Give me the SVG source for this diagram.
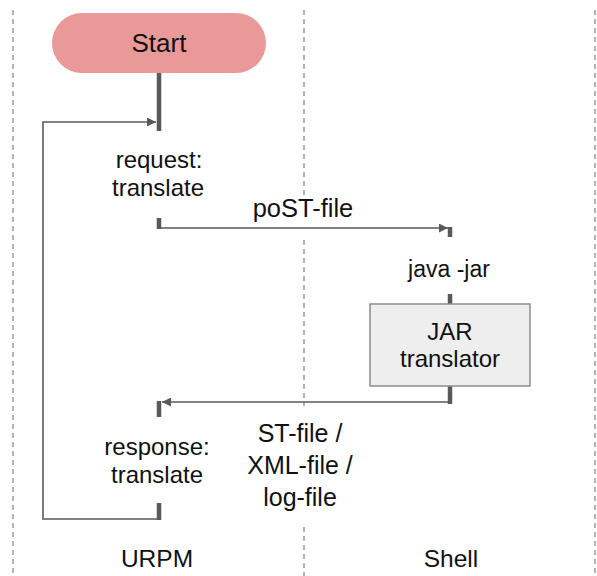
<svg xmlns="http://www.w3.org/2000/svg" width="597" height="576" viewBox="0 0 597 576">
  <defs>
    <style>
      .lane { stroke: #8c8c8c; stroke-width: 1.3; stroke-dasharray: 5 4; fill: none; }
      .flow { stroke: #595959; stroke-width: 1.6; fill: none; }
      .stub { stroke: #595959; stroke-width: 4.5; fill: none; }
      .lbl { font-family: "Liberation Sans", Arial, sans-serif; font-size: 24.5px; fill: #111111; text-anchor: middle; }
    </style>
    <marker id="arrow" viewBox="0 0 10 10" refX="10" refY="5" markerWidth="10" markerHeight="9" markerUnits="userSpaceOnUse" orient="auto">
      <path d="M0,0 L10,5 L0,10 z" fill="#595959"/>
    </marker>
  </defs>
  <rect width="597" height="576" fill="#ffffff"/>

  <!-- swimlane separators -->
  <g id="lanes">
    <line class="lane" x1="13" y1="10" x2="13" y2="576"/>
    <line class="lane" x1="304" y1="10" x2="304" y2="196"/>
    <line class="lane" x1="304" y1="240" x2="304" y2="406"/>
    <line class="lane" x1="304" y1="527" x2="304" y2="576"/>
    <line class="lane" x1="595" y1="10" x2="595" y2="576"/>
  </g>

  <!-- connectors -->
  <g id="connectors">
    <line class="stub" x1="159" y1="73" x2="159" y2="131"/>
    <polyline class="flow" points="159,519 43,519 43,122 156,122" marker-end="url(#arrow)"/>
    <line class="stub" x1="159" y1="218" x2="159" y2="229"/>
    <polyline class="flow" points="159,228 448,228" marker-end="url(#arrow)"/>
    <line class="stub" x1="450" y1="227" x2="450" y2="237"/>
    <line class="stub" x1="450" y1="294" x2="450" y2="304"/>
    <line class="stub" x1="450" y1="386" x2="450" y2="404"/>
    <polyline class="flow" points="450,402 162,402" marker-end="url(#arrow)"/>
    <line class="stub" x1="159" y1="401" x2="159" y2="417"/>
    <line class="stub" x1="159" y1="503" x2="159" y2="520"/>
    <text class="lbl" x="303" y="217" style="font-size:25.5px">poST-file</text>
    <text class="lbl" x="300" y="442" style="font-size:25px">ST-file /</text>
    <text class="lbl" x="300" y="474" style="font-size:25px">XML-file /</text>
    <text class="lbl" x="300" y="506" style="font-size:25px">log-file</text>
  </g>

  <g id="start">
    <rect x="52" y="13" width="214" height="60" rx="30" ry="30" fill="#ea9999"/>
    <text class="lbl" x="159" y="52" style="font-size:26px">Start</text>
  </g>

  <g id="request">
    <text class="lbl" x="159" y="168" style="font-size:24px">request:</text>
    <text class="lbl" x="158" y="196" style="font-size:24px">translate</text>
  </g>

  <g id="java">
    <text class="lbl" x="449" y="277" style="font-size:23px">java -jar</text>
  </g>

  <g id="jar">
    <rect x="370" y="304" width="160" height="82" fill="#eeeeee" stroke="#8c8c8c" stroke-width="1.5"/>
    <text class="lbl" x="450" y="340" style="font-size:24px">JAR</text>
    <text class="lbl" x="450" y="367" style="font-size:24px">translator</text>
  </g>

  <g id="response">
    <text class="lbl" x="157" y="455" style="font-size:24px">response:</text>
    <text class="lbl" x="157" y="483" style="font-size:24px">translate</text>
  </g>

  <g id="urpm">
    <text class="lbl" x="157" y="567">URPM</text>
  </g>
  <g id="shell">
    <text class="lbl" x="451" y="567">Shell</text>
  </g>
</svg>
